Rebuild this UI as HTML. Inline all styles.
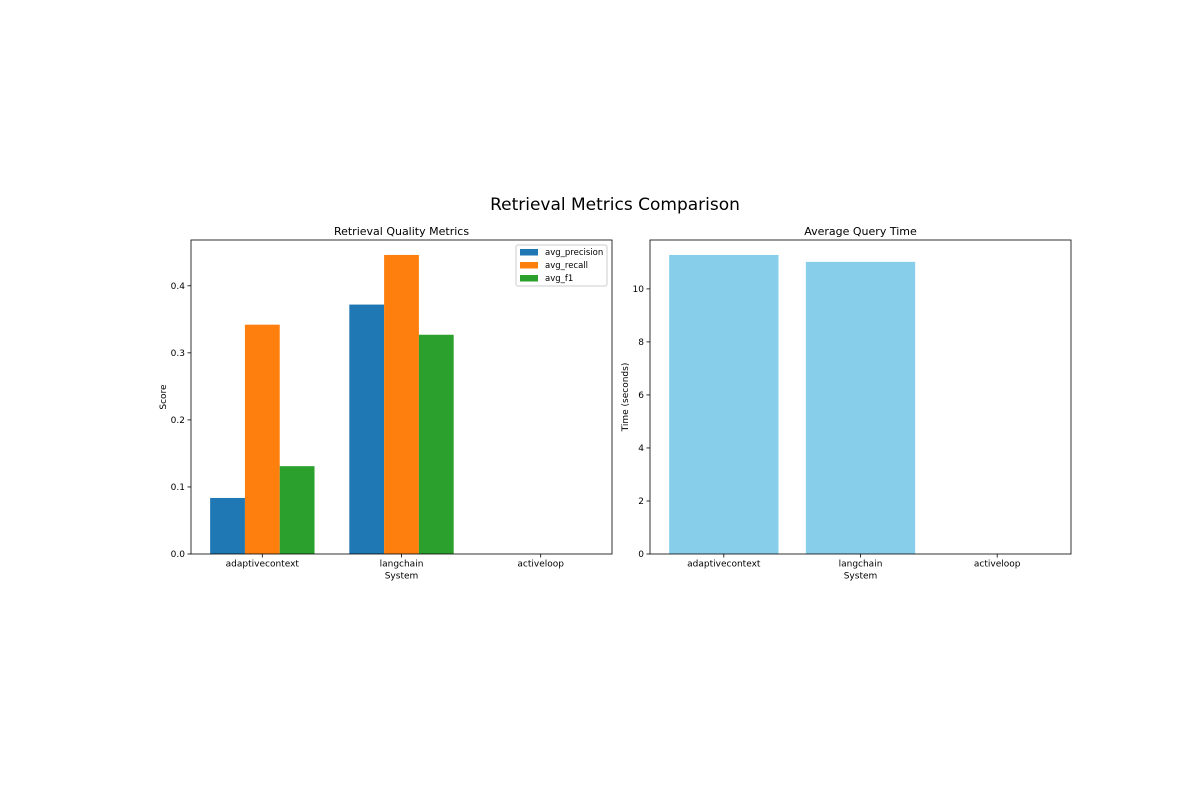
<!DOCTYPE html>
<html><head><meta charset="utf-8"><style>
body{margin:0;background:#fff;width:1200px;height:800px;overflow:hidden;font-family:"Liberation Sans","DejaVu Sans",sans-serif}
svg text{font-family:"DejaVu Sans","Liberation Sans",sans-serif}
</style></head><body>
<svg id="chart" width="1200" height="800" xmlns="http://www.w3.org/2000/svg">
<rect width="1200" height="800" fill="#fff"/>
<text x="615" y="210" font-size="17" text-anchor="middle">Retrieval Metrics Comparison</text>
<g id="left"></g><g id="right"></g>
</svg>
<script>
const categories = ["adaptivecontext","langchain","activeloop"];
const seriesNames = ["avg_precision","avg_recall","avg_f1"];
const precision = [0.0836, 0.372, 0];
const recall = [0.342, 0.446, 0];
const f1 = [0.131, 0.327, 0];
const queryTime = [11.28, 11.02, 0];
const leftTicks = [0.0,0.1,0.2,0.3,0.4];
const rightTicks = [0,2,4,6,8,10];
const colors = ["#1f77b4","#ff7f0e","#2ca02c"];
const NS="http://www.w3.org/2000/svg";
function mk(p,t,a){const e=document.createElementNS(NS,t);for(const k in a)e.setAttribute(k,a[k]);p.appendChild(e);return e;}
function axes(g,x0,x1,y0,y1,xmin,xmax,ymax,ticks,fmt,title,ylab,ylx){
  const sx=v=>x0+(v-xmin)/(xmax-xmin)*(x1-x0);
  const sy=v=>y1-v/ymax*(y1-y0);
  ticks.forEach(t=>{const y=sy(t);
    const l=mk(g,'line',{x1:x0-3.5,x2:x0,y1:y,y2:y,stroke:'#000','stroke-width':0.8});
    
    const tx=mk(g,'text',{x:x0-6,y:y+3,'font-size':9,'text-anchor':'end'});tx.textContent=fmt(t);
    });
  categories.forEach((c,i)=>{const x=sx(i);
    mk(g,'line',{x1:x,x2:x,y1:y1,y2:y1+3.5,stroke:'#000','stroke-width':0.8});
    const tx=mk(g,'text',{x:x,y:y1+12.5,'font-size':9,'text-anchor':'middle'});tx.textContent=c;
    });
  const t=mk(g,'text',{x:(x0+x1)/2,y:y0-5,'font-size':11,'text-anchor':'middle'});t.textContent=title;
  
  const xl=mk(g,'text',{x:(x0+x1)/2,y:y1+24.5,'font-size':9,'text-anchor':'middle'});xl.textContent='System';
  
  const yy=(y0+y1)/2;
  const yl=mk(g,'text',{x:ylx,y:yy,'font-size':9,'text-anchor':'middle',transform:`rotate(-90 ${ylx} ${yy})`});yl.textContent=ylab;
  
  return {sx,sy};
}
const gl=document.getElementById('left');
const L=axes(gl,191,612,240,554,-0.5125,2.5125,0.446*1.05,leftTicks,v=>v.toFixed(1),'Retrieval Quality Metrics','Score',166);
[precision,recall,f1].forEach((s,k)=>{s.forEach((v,i)=>{
  const xa=L.sx(i+(k-1)*0.25-0.125),xb=L.sx(i+(k-1)*0.25+0.125);
  const r=mk(gl,'rect',{x:xa,y:L.sy(v),width:xb-xa,height:L.sy(0)-L.sy(v),fill:colors[k]});
  });});
mk(gl,'rect',{x:191,y:240,width:421,height:314,fill:'none',stroke:'#000','stroke-width':0.8});
const lg=mk(gl,'g',{});
mk(lg,'rect',{x:516,y:245,width:91,height:41,fill:'#fff',stroke:'#ccc',rx:2});
seriesNames.forEach((n,k)=>{const y=252+k*13;
  const r=mk(lg,'rect',{x:520,y:y-3,width:18,height:6.5,fill:colors[k]});
  
  const t=mk(lg,'text',{x:545,y:y+3,'font-size':8.5});t.textContent=n;
  });
const gr=document.getElementById('right');
const R=axes(gr,650,1071,240,554,-0.54,2.54,11.28*1.05,rightTicks,v=>String(v),'Average Query Time','Time (seconds)',628);
queryTime.forEach((v,i)=>{const xa=R.sx(i-0.4),xb=R.sx(i+0.4);
  const r=mk(gr,'rect',{x:xa,y:R.sy(v),width:xb-xa,height:R.sy(0)-R.sy(v),fill:'#87ceeb'});
  });
mk(gr,'rect',{x:650,y:240,width:421,height:314,fill:'none',stroke:'#000','stroke-width':0.8});
</script>
</body></html>
